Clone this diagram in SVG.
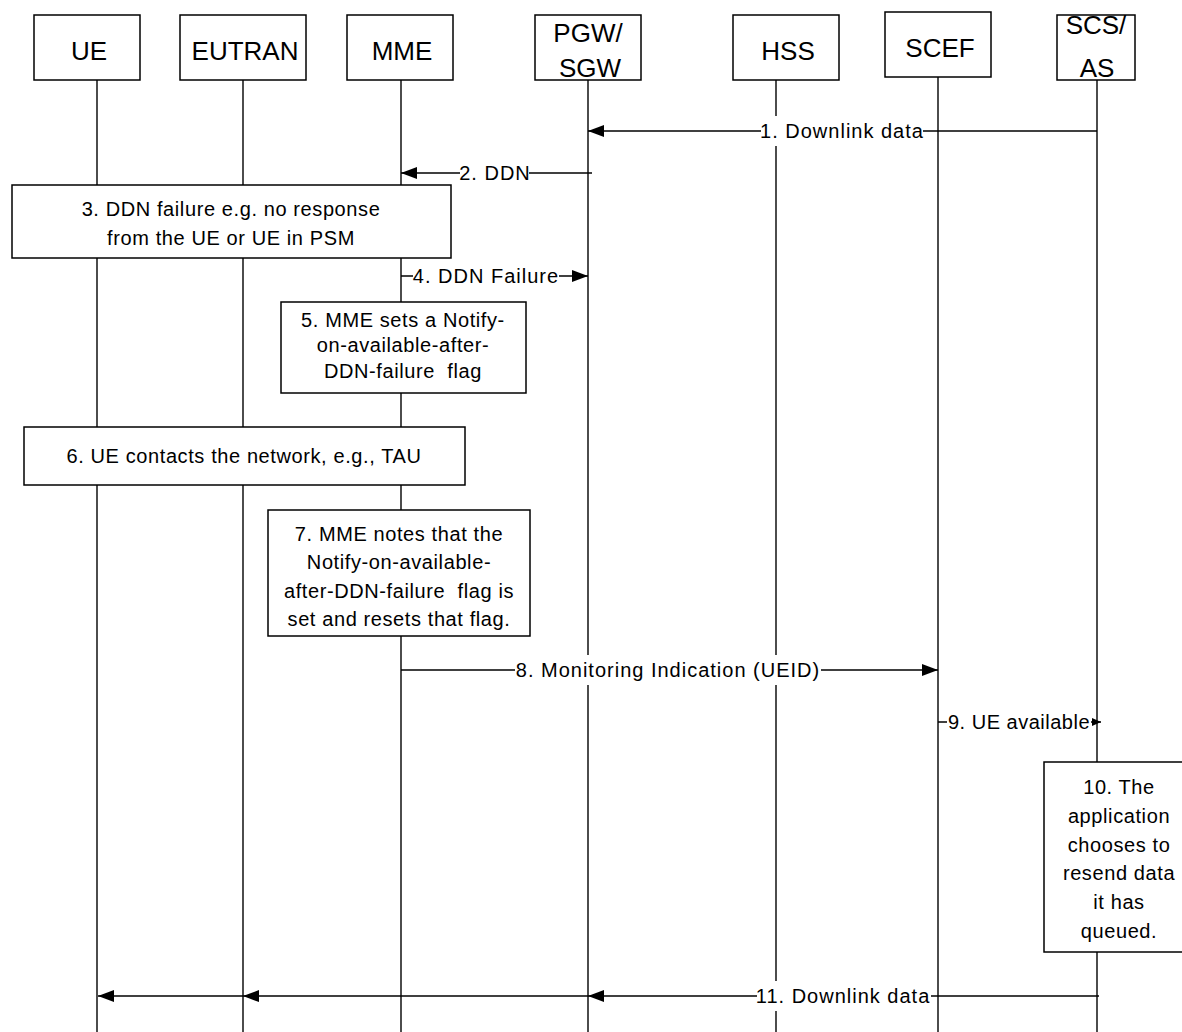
<svg xmlns="http://www.w3.org/2000/svg" width="1182" height="1032" viewBox="0 0 1182 1032">
<style>
  .box{fill:#fff;stroke:#000;stroke-width:1.5}
  .life{stroke:#000;stroke-width:1.4;fill:none}
  .msg{stroke:#000;stroke-width:1.4;fill:none}
  .hdr{font-family:"Liberation Sans",Arial,sans-serif;font-size:26px;fill:#000;text-anchor:middle}
  .note{font-family:"Liberation Sans",Arial,sans-serif;font-size:20px;letter-spacing:0.6px;fill:#000;text-anchor:middle;white-space:pre}
  .lbl{font-family:"Liberation Sans",Arial,sans-serif;font-size:20px;letter-spacing:1px;fill:#000;text-anchor:middle}
  .lblbg{fill:#fff;stroke:none}
</style>
<defs>
  <marker id="ah" markerUnits="userSpaceOnUse" markerWidth="16" markerHeight="12" refX="16" refY="6" orient="auto">
    <path d="M0,0 L16,6 L0,12 Z" fill="#000"/>
  </marker>
  <marker id="ahs" markerUnits="userSpaceOnUse" markerWidth="9" markerHeight="8" refX="9" refY="4" orient="auto">
    <path d="M0,0 L9,4 L0,8 Z" fill="#000"/>
  </marker>
</defs>
<rect width="1182" height="1032" fill="#fff"/>

<g id="UE">
  <line class="life" x1="97" y1="80" x2="97" y2="1032"/>
  <rect class="box" x="34" y="15" width="106" height="65"/>
  <text class="hdr" x="89" y="60">UE</text>
</g>
<g id="EUTRAN">
  <line class="life" x1="243" y1="80" x2="243" y2="1032"/>
  <rect class="box" x="180" y="15" width="126" height="65"/>
  <text class="hdr" x="245" y="60">EUTRAN</text>
</g>
<g id="MME">
  <line class="life" x1="401" y1="80" x2="401" y2="1032"/>
  <rect class="box" x="347" y="15" width="106" height="65"/>
  <text class="hdr" x="402" y="60">MME</text>
</g>
<g id="PGW_SGW">
  <line class="life" x1="588" y1="80" x2="588" y2="1032"/>
  <rect class="box" x="535" y="15" width="106" height="65"/>
  <text class="hdr" x="588" y="42">PGW/</text>
  <text class="hdr" x="590" y="77">SGW</text>
</g>
<g id="HSS">
  <line class="life" x1="776" y1="80" x2="776" y2="1032"/>
  <rect class="box" x="733" y="15" width="106" height="65"/>
  <text class="hdr" x="788" y="60">HSS</text>
</g>
<g id="SCEF">
  <line class="life" x1="938" y1="77" x2="938" y2="1032"/>
  <rect class="box" x="885" y="12" width="106" height="65"/>
  <text class="hdr" x="940" y="57">SCEF</text>
</g>
<g id="SCS_AS">
  <line class="life" x1="1097" y1="80" x2="1097" y2="1032"/>
  <rect class="box" x="1057" y="15" width="78" height="65"/>
  <text class="hdr" x="1096" y="34">SCS/</text>
  <text class="hdr" x="1097" y="77">AS</text>
</g>

<g id="connectors">
  <g id="m1">
    <line class="msg" x1="1097" y1="131" x2="588" y2="131" marker-end="url(#ah)"/>
    <rect class="lblbg" x="761" y="116" width="162" height="30"/>
    <text class="lbl" x="842" y="138">1. Downlink data</text>
  </g>
  <g id="m2">
    <line class="msg" x1="592" y1="173" x2="401" y2="173" marker-end="url(#ah)"/>
    <rect class="lblbg" x="460" y="160" width="69" height="26"/>
    <text class="lbl" x="495" y="180">2. DDN</text>
  </g>
  <g id="m4">
    <line class="msg" x1="401" y1="276" x2="588" y2="276" marker-end="url(#ah)"/>
    <rect class="lblbg" x="413" y="263" width="146" height="26"/>
    <text class="lbl" x="486" y="283">4. DDN Failure</text>
  </g>
  <g id="m8">
    <line class="msg" x1="401" y1="670" x2="938" y2="670" marker-end="url(#ah)"/>
    <rect class="lblbg" x="515" y="655" width="306" height="30"/>
    <text class="lbl" x="668" y="677">8. Monitoring Indication (UEID)</text>
  </g>
  <g id="m9">
    <line class="msg" x1="938" y1="722" x2="1101" y2="722" marker-end="url(#ahs)"/>
    <rect class="lblbg" x="947" y="709" width="144" height="26"/>
    <text class="lbl" x="1019" y="729" style="letter-spacing:0.5px">9. UE available</text>
  </g>
  <g id="m11">
    <line class="msg" x1="1099" y1="996" x2="588" y2="996" marker-end="url(#ah)"/>
    <line class="msg" x1="588" y1="996" x2="243" y2="996" marker-end="url(#ah)"/>
    <line class="msg" x1="243" y1="996" x2="98" y2="996" marker-end="url(#ah)"/>
    <rect class="lblbg" x="757" y="981" width="174" height="30"/>
    <text class="lbl" x="843" y="1003">11. Downlink data</text>
  </g>
</g>

<g id="note3">
  <rect class="box" x="12" y="185" width="439" height="73"/>
  <text class="note" x="231" y="216">3. DDN failure e.g. no response</text>
  <text class="note" x="231" y="245">from the UE or UE in PSM</text>
</g>
<g id="note5">
  <rect class="box" x="281" y="302" width="245" height="91"/>
  <text class="note" x="403" y="327">5. MME sets a Notify-</text>
  <text class="note" x="403" y="352">on-available-after-</text>
  <text class="note" x="403" y="378">DDN-failure  flag</text>
</g>
<g id="note6">
  <rect class="box" x="24" y="427" width="441" height="58"/>
  <text class="note" x="244" y="463">6. UE contacts the network, e.g., TAU</text>
</g>
<g id="note7">
  <rect class="box" x="268" y="510" width="262" height="126"/>
  <text class="note" x="399" y="541">7. MME notes that the</text>
  <text class="note" x="399" y="569">Notify-on-available-</text>
  <text class="note" x="399" y="598">after-DDN-failure  flag is</text>
  <text class="note" x="399" y="626">set and resets that flag.</text>
</g>
<g id="note10">
  <rect class="box" x="1044" y="762" width="150" height="190"/>
  <text class="note" x="1119" y="794">10. The</text>
  <text class="note" x="1119" y="823">application</text>
  <text class="note" x="1119" y="852">chooses to</text>
  <text class="note" x="1119" y="880">resend data</text>
  <text class="note" x="1119" y="909">it has</text>
  <text class="note" x="1119" y="938">queued.</text>
</g>
</svg>
